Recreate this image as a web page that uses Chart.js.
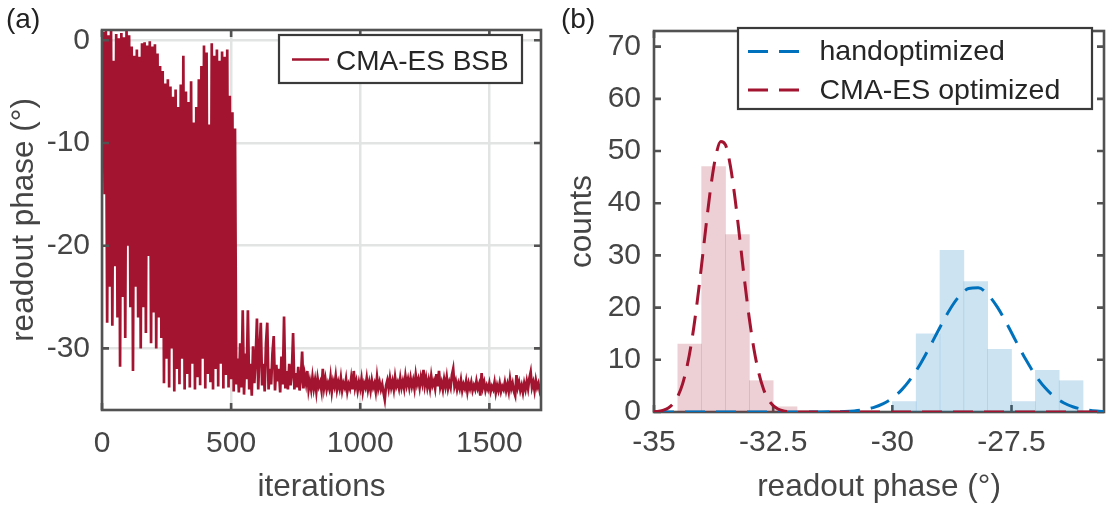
<!DOCTYPE html>
<html><head><meta charset="utf-8">
<script src="https://cdn.jsdelivr.net/npm/chart.js@4.4.1/dist/chart.umd.min.js"></script>
<style>
html,body{margin:0;padding:0;background:#fff;}
#wrap{position:relative;width:1107px;height:507px;overflow:hidden;font-family:"Liberation Sans",Arial,sans-serif;}
.box{position:absolute;top:0;}
.panel{position:absolute;font-size:28px;line-height:28px;color:#222;font-family:"Liberation Sans",Arial,sans-serif;}
</style></head><body>
<div id="wrap">
  <div class="box" style="left:0;width:560px;height:507px"><canvas id="ca" width="560" height="507"></canvas></div>
  <div class="box" style="left:560px;width:547px;height:507px"><canvas id="cb" width="547" height="507"></canvas></div>
  <div class="panel" style="left:6px;top:5px">(a)</div>
  <div class="panel" style="left:561px;top:5px">(b)</div>
</div>
<script>
// ---------- panel (a) data ----------
const iterStep = 5;
const phaseTrace = [
-10,0.8,-15,1.0,-27.5,0.5,-24,0.9,-27.8,-2,-22,0.6,-27,0.2,-31.8,0.7,-25,0.3,-29,1.0,-20,
0.5,-26,-0.6,-32.2,-1.5,-24,-0.9,-27,-1.6,-30,-0.3,-26,-0.2,-28.5,-0.5,-21,-0.1,-29.5,-0.6,-26.5,
-0.4,-30,-1.3,-27,-2.5,-29,-3,-33.4,-4.2,-31,-3.8,-33.8,-4.5,-30,-5.5,-34.2,-4.8,-32,-6.5,-33.5,
-4.3,-31,-1.5,-34,-5,-32.5,-6,-33.8,-4,-31.5,-8,-34,-6.5,-32.8,-3.8,-33.6,-2.5,-31,-0.5,-33.9,
-1.2,-32.5,-8.2,-33.3,-0.3,-34,-1.5,-32,-0.9,-33.7,-2.0,-31.5,-1.1,-33.9,-1.6,-32.6,-0.9,-33.8,-5.4,-33,
-7,-34.2,-8.6,-33.5,
-31,-34.3,-29.5,-33.8,-26.3,-34.5,-30.5,-33,-26.3,-34,-31.5,-34.6,-29.8,-33.4,-31,-27.1,-34,-30.2,-27.5,-33.6,
-31.5,-34.2,-29.5,-27.5,-34,-32,-33.5,-30.5,-28.8,-34.1,-31.6,-33.2,-32,-34.3,-30.8,-33.5,-26.9,-33.9,-32.2,-34,
-31.5,-33.6,-32.5,-28.5,-34,-32.4,-33.8,-31.8,-34.1,-33,-30.3,-33.9,-32.6,-33.4,-32.2,-34,
-33.2,-34.0,-32.8,-33.9,-33.1,-34.2,-32.9,-33.7,-33.3,-34.1,-32.0,-33.8,-33.0,-34.0,-33.4,-33.9,-32.8,-34.2,-33.2,-33.7,
-32.7,-34.0,-33.3,-33.9,-32.9,-34.1,-33.4,-33.8,-33.0,-34.2,-33.5,-33.9,-32.9,-34.0,-32.2,-33.8,-33.2,-34.1,-33.3,-33.9,
-33.0,-34.2,-33.4,-33.8,-32.9,-34.0,-33.3,-34.1,-33.1,-33.8,-33.4,-34.2,-32.8,-33.9,-33.3,-34.0,-33.5,-34.3,-35.0,-33.6,
-33.1,-33.9,-32.9,-33.8,-33.2,-34.0,-32.8,-33.7,-33.3,-33.9,-32.9,-33.8,-33.2,-33.9,-32.7,-33.6,-33.0,-33.8,-32.9,-33.7,
-33.1,-33.9,-32.6,-33.5,-33.0,-33.8,-32.8,-33.4,-32.1,-33.6,-32.9,-33.8,-33.1,-33.9,-32.7,-33.6,-33.2,-33.9,-32.5,-33.7,
-32.2,-33.8,-33.3,-34.0,-33.0,-33.7,-32.8,-33.9,-33.3,-33.8,-32.6,-32.0,-33.7,-33.2,-34.0,-33.4,-33.9,-33.1,-34.1,-33.5,
-33.9,-33.2,-34.2,-33.4,-33.9,-33.3,-34.1,-33.6,-34.0,-33.2,-33.9,-33.5,-34.6,-32.4,-33.8,-33.3,-34.1,-33.6,-34.0,-33.4,
-34.2,-33.7,-34.0,-33.3,-34.3,-33.6,-34.1,-33.4,-34.2,-33.7,-34.0,-33.3,-34.1,-33.5,-34.2,-33.0,-33.9,-33.4,-34.2,-34.6,
-32.6,-33.8,-33.3,-34.1,-33.6,-34.3,-33.4,-34.0,-33.2,-33.9,-32.9,-32.3,-33.8,-33.3,-34.1,-33.1,-33.8,-33.4,-34.1,-33.6
];
const leftXTicks = [0, 500, 1000, 1500];
const leftYTicks = [0, -10, -20, -30];

// ---------- panel (b) data ----------
const cmaBinCenters = [-34.25, -33.75, -33.25, -32.75, -32.25];
const cmaCounts = [13, 47, 34, 6, 1];
const handBinCenters = [-29.75, -29.25, -28.75, -28.25, -27.75, -27.25, -26.75, -26.25];
const handCounts = [2, 15, 31, 25, 12, 2, 8, 6];

const cmaFitX = [-35.0,-34.9,-34.8,-34.7,-34.6,-34.5,-34.4,-34.3,-34.2,-34.1,-34.0,-33.9,-33.8,-33.7,-33.6,-33.5,-33.4,-33.3,-33.2,-33.1,-33.0,-32.9,-32.8,-32.7,-32.6,-32.5,-32.4,-32.3,-32.2,-32.0,-31.5,-30.0,-28.0,-26.0,-25.5];
const cmaFitY = [0.06,0.16,0.36,0.78,1.59,3.03,5.40,9.02,14.10,20.66,28.31,36.35,43.70,49.19,51.85,51.17,47.28,40.92,33.16,25.16,17.87,11.89,7.41,4.32,2.36,1.21,0.58,0.26,0.11,0.02,0,0,0,0,0];
const handFitX = [-35.0,-33.0,-31.5,-31.2,-31.0,-30.8,-30.6,-30.4,-30.2,-30.0,-29.8,-29.6,-29.4,-29.2,-29.0,-28.8,-28.6,-28.4,-28.2,-28.0,-27.8,-27.6,-27.4,-27.2,-27.0,-26.8,-26.6,-26.4,-26.2,-26.0,-25.8,-25.6,-25.5];
const handFitY = [0,0,0.01,0.05,0.10,0.21,0.44,0.85,1.54,2.65,4.29,6.54,9.40,12.74,16.25,19.55,22.15,23.65,23.79,22.55,20.14,16.95,13.43,10.04,7.07,4.69,2.93,1.73,0.96,0.50,0.25,0.11,0.07];
const rightXTicks = [-35, -32.5, -30, -27.5];
const rightYTicks = [0, 10, 20, 30, 40, 50, 60, 70];

// ---------- styling ----------
const FONT = '"Liberation Sans", Arial, sans-serif';
const TXT = '#454545';
const FRAME = '#525252';
const RED = '#A2142F';
const BLUE = '#0072BD';

const framePlugin = {
  id: 'frame',
  draw(chart, o) {
    const {ctx, chartArea: a, scales} = chart;
    ctx.save();
    ctx.strokeStyle = o.color; ctx.lineWidth = o.width; ctx.setLineDash([]);
    ctx.beginPath();
    scales.x.ticks.forEach(t => {
      const p = scales.x.getPixelForValue(t.value);
      ctx.moveTo(p, a.bottom); ctx.lineTo(p, a.bottom - o.len);
      ctx.moveTo(p, a.top); ctx.lineTo(p, a.top + o.len);
    });
    scales.y.ticks.forEach(t => {
      const p = scales.y.getPixelForValue(t.value);
      ctx.moveTo(a.left, p); ctx.lineTo(a.left + o.len, p);
      ctx.moveTo(a.right, p); ctx.lineTo(a.right - o.len, p);
    });
    ctx.stroke();
    ctx.strokeRect(a.left, a.top, a.right - a.left, a.bottom - a.top);
    ctx.restore();
  },
  beforeDatasetsDraw(chart, args, o) { if (!o.onTop) this.draw(chart, o); },
  afterDatasetsDraw(chart, args, o) { if (o.onTop) this.draw(chart, o); }
};

const boxLegend = {
  id: 'boxLegend',
  afterDraw(chart, args, o) {
    if (!o.items) return;
    const ctx = chart.ctx;
    ctx.save();
    ctx.fillStyle = '#fff';
    ctx.fillRect(o.x, o.y, o.w, o.h);
    ctx.lineWidth = o.borderWidth; ctx.strokeStyle = o.borderColor;
    ctx.strokeRect(o.x, o.y, o.w, o.h);
    o.items.forEach(it => {
      const ds = chart.data.datasets[it.ds];
      ctx.beginPath();
      ctx.setLineDash(ds.borderDash || []);
      ctx.lineWidth = it.lineWidth; ctx.strokeStyle = ds.borderColor;
      ctx.moveTo(o.lineX1, it.y); ctx.lineTo(o.lineX2, it.y); ctx.stroke();
      ctx.setLineDash([]);
      ctx.font = o.font; ctx.fillStyle = o.textColor; ctx.textBaseline = 'alphabetic'; ctx.textAlign = 'left';
      ctx.fillText(ds.label, o.textX, it.baseline);
    });
    ctx.restore();
  }
};

const setTicks = arr => scale => { scale.ticks = arr.map(v => ({value: v})); };

// ---------- chart (a) ----------
new Chart(document.getElementById('ca'), {
  type: 'line',
  data: { datasets: [{
    label: 'CMA-ES BSB',
    data: phaseTrace.map((v, i) => ({x: i * iterStep, y: v})),
    borderColor: RED, borderWidth: 2.7, pointRadius: 0, tension: 0, fill: false
  }]},
  options: {
    responsive: false, animation: false, devicePixelRatio: 1,
    layout: { padding: {left: 0, top: 15, right: 19, bottom: 0} },
    plugins: {
      legend: {display: false}, tooltip: {enabled: false},
      frame: {color: FRAME, width: 2.6, len: 7, onTop: true},
      boxLegend: {x: 279, y: 35, w: 243, h: 48, borderWidth: 2.2, borderColor: '#3a3a3a',
        lineX1: 292, lineX2: 329, textX: 336, font: '28px ' + FONT, textColor: '#262626',
        items: [{ds: 0, y: 59.5, baseline: 70, lineWidth: 2.5}]}
    },
    scales: {
      x: {
        type: 'linear', min: 0, max: 1700,
        afterBuildTicks: setTicks(leftXTicks),
        afterFit: s => { s.height = 97; },
        grid: {color: '#e2e4e4', lineWidth: 2.5, drawTicks: false},
        border: {display: false},
        ticks: {font: {family: FONT, size: 30}, color: TXT, padding: 16, maxRotation: 0, callback: v => String(v)},
        title: {display: true, text: 'iterations', font: {family: FONT, size: 31.5}, color: TXT, padding: {top: 0, bottom: 1}}
      },
      y: {
        type: 'linear', min: -36, max: 1.0,
        afterBuildTicks: setTicks(leftYTicks),
        afterFit: s => { s.width = 102; },
        grid: {color: '#e2e4e4', lineWidth: 2.5, drawTicks: false},
        border: {display: false},
        ticks: {font: {family: FONT, size: 30}, color: TXT, padding: 12, callback: v => String(v)},
        title: {display: true, text: 'readout phase (°)', font: {family: FONT, size: 31.5}, color: TXT, padding: {top: 5.5, bottom: 0}}
      }
    }
  },
  plugins: [framePlugin, boxLegend]
});

// ---------- chart (b) ----------
new Chart(document.getElementById('cb'), {
  type: 'bar',
  data: { datasets: [
    { type: 'line', label: 'CMA-ES optimized', data: cmaFitX.map((x, i) => ({x, y: cmaFitY[i]})),
      borderColor: RED, borderWidth: 3, borderDash: [20, 11], pointRadius: 0, cubicInterpolationMode: 'monotone', fill: false },
    { type: 'line', label: 'handoptimized', data: handFitX.map((x, i) => ({x, y: handFitY[i]})),
      borderColor: BLUE, borderWidth: 3, borderDash: [20, 11], pointRadius: 0, cubicInterpolationMode: 'monotone', fill: false },
    { type: 'bar', label: 'CMA-ES counts', data: cmaBinCenters.map((x, i) => ({x, y: cmaCounts[i]})),
      backgroundColor: 'rgba(162,20,47,0.2)', borderWidth: 0, grouped: false, barPercentage: 1, categoryPercentage: 1 },
    { type: 'bar', label: 'hand counts', data: handBinCenters.map((x, i) => ({x, y: handCounts[i]})),
      backgroundColor: 'rgba(0,114,189,0.2)', borderWidth: 0, grouped: false, barPercentage: 1, categoryPercentage: 1 }
  ]},
  options: {
    responsive: false, animation: false, devicePixelRatio: 1,
    layout: { padding: {left: 0, top: 13, right: 3, bottom: 0} },
    plugins: {
      legend: {display: false}, tooltip: {enabled: false},
      frame: {color: FRAME, width: 2.6, len: 7, onTop: false},
      boxLegend: {x: 178, y: 28, w: 354, h: 81, borderWidth: 2.2, borderColor: '#3a3a3a',
        lineX1: 188, lineX2: 240, textX: 259.5, font: '28.5px ' + FONT, textColor: '#262626',
        items: [{ds: 1, y: 51.6, baseline: 60, lineWidth: 3}, {ds: 0, y: 90, baseline: 99, lineWidth: 3}]}
    },
    scales: {
      x: {
        type: 'linear', min: -35, max: -25.56, offset: false,
        afterBuildTicks: setTicks(rightXTicks),
        afterFit: s => { s.height = 95; },
        grid: {display: false, drawTicks: false},
        border: {display: false},
        ticks: {font: {family: FONT, size: 30}, color: TXT, padding: 13, maxRotation: 0, callback: v => String(v)},
        title: {display: true, text: 'readout phase (°)', font: {family: FONT, size: 31.5}, color: TXT, padding: {top: 0, bottom: 1}}
      },
      y: {
        type: 'linear', min: 0, max: 73,
        afterBuildTicks: setTicks(rightYTicks),
        afterFit: s => { s.width = 94; },
        grid: {display: false, drawTicks: false},
        border: {display: false},
        ticks: {font: {family: FONT, size: 30}, color: TXT, padding: 13, callback: v => String(v)},
        title: {display: true, text: 'counts', font: {family: FONT, size: 31.5}, color: TXT, padding: {top: 3, bottom: 0}}
      }
    }
  },
  plugins: [framePlugin, boxLegend]
});
</script>
</body></html>
